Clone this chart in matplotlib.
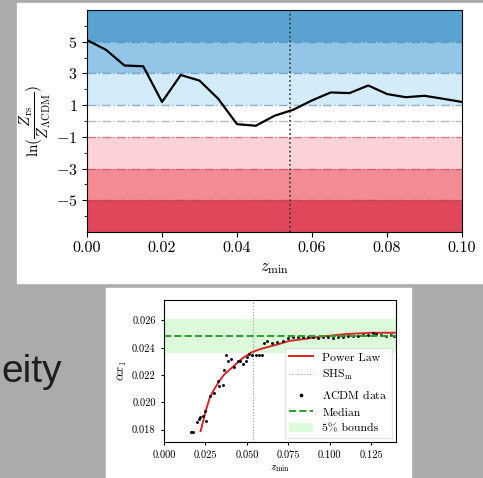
import matplotlib
matplotlib.use('Agg')
import matplotlib.pyplot as plt
import numpy as np

plt.rcParams['font.family'] = 'serif'
plt.rcParams['font.serif'] = ['cmr10', 'DejaVu Serif']
plt.rcParams['mathtext.fontset'] = 'cm'
plt.rcParams['axes.formatter.use_mathtext'] = True

# Datos panel superior: ln(Z_rs / Z_LCDM) frente a z_min
z_min = [0.000, 0.005, 0.010, 0.015, 0.020, 0.025, 0.030, 0.035, 0.040, 0.045, 0.050,
         0.055, 0.060, 0.065, 0.070, 0.075, 0.080, 0.085, 0.090, 0.095, 0.100]
ln_ratio = [5.1, 4.5, 3.5, 3.45, 1.2, 2.9, 2.55, 1.4, -0.2, -0.3, 0.33,
            0.71, 1.3, 1.8, 1.76, 2.24, 1.7, 1.5, 1.59, 1.4, 1.2]
z_shs = 0.054
band_edges = [-7, -5, -3, -1, 1, 3, 5, 7]
band_colors = ['#e0475a', '#f28b94', '#fdd1d8', '#ffffff', '#d4ecf9', '#93c6e6', '#5aa2cf']
y_ticks_top = [-5, -3, -1, 1, 3, 5]

# Datos panel inferior: alpha x_1 frente a z_min
pl_z = [0.0221, 0.0250, 0.0275, 0.0300, 0.0325, 0.0360, 0.0415, 0.0470, 0.0524, 0.0580,
        0.0634, 0.0700, 0.0754, 0.0850, 0.0933, 0.1093, 0.1252, 0.1400]
pl_ax = [0.0179, 0.0193, 0.0203, 0.0209, 0.0214, 0.0220, 0.0226, 0.0232, 0.02364, 0.0239,
         0.02408, 0.0243, 0.0245, 0.02465, 0.0248, 0.0250, 0.0251, 0.0251]
data_z = [0.0165, 0.0172, 0.0200, 0.0211, 0.0218, 0.0235, 0.0247, 0.0255, 0.0275, 0.0301,
          0.0325, 0.0329, 0.0355, 0.0361, 0.0375, 0.0389, 0.0405, 0.0425, 0.0445, 0.0460,
          0.0475, 0.0495, 0.0500, 0.0514, 0.0534, 0.0554, 0.0574, 0.0594, 0.0604, 0.0624,
          0.0654, 0.0684, 0.072, 0.075, 0.078, 0.081, 0.084, 0.087, 0.090, 0.093, 0.096,
          0.099, 0.102, 0.105, 0.108, 0.111, 0.114, 0.117, 0.120, 0.123, 0.126, 0.128,
          0.131, 0.134, 0.137, 0.139]
data_ax = [0.01785, 0.01780, 0.01856, 0.01880, 0.01890, 0.01900, 0.01940, 0.01863, 0.02046, 0.02070,
           0.02156, 0.02120, 0.02130, 0.02240, 0.02350, 0.02300, 0.02320, 0.02260, 0.02305, 0.02305,
           0.02280, 0.02305, 0.02330, 0.02358, 0.02350, 0.02344, 0.02344, 0.02344, 0.02437, 0.02448,
           0.02437, 0.02440, 0.02452, 0.02470, 0.02478, 0.02482, 0.02476, 0.02480, 0.02478, 0.02474, 0.02480,
           0.02476, 0.02470, 0.02478, 0.02482, 0.02486, 0.02490, 0.02488, 0.02494, 0.02496, 0.02510, 0.02500,
           0.02494, 0.02490, 0.02492, 0.02488]
median_ax = 0.02485
x_ticks_bot = [0.000, 0.025, 0.050, 0.075, 0.100, 0.125]
y_ticks_bot = [0.018, 0.020, 0.022, 0.024, 0.026]

fig = plt.figure(figsize=(4.83, 4.78), dpi=100)

# Fondo de la diapositiva (coordenadas en pixeles)
bg = fig.add_axes([0, 0, 1, 1], zorder=-10)
bg.axis('off')
bg.add_patch(plt.Rectangle((0, 0), 483, 478, color='#ababab'))
grad = np.linspace(0, 1, 50).reshape(-1, 1)
bg.imshow(grad, extent=(0, 483, 478, 446), cmap=matplotlib.colors.LinearSegmentedColormap.from_list(
    'g', ['#ababab', '#4e4e4e']), aspect='auto', origin='upper')
bg.add_patch(plt.Rectangle((17, 3), 470, 280, color='white'))
bg.add_patch(plt.Rectangle((106, 288), 305, 190, color='white'))
bg.text(1, 382, 'eity', fontsize=28, family='Liberation Sans', color='#1e1e1e')
bg.set_xlim(0, 483)
bg.set_ylim(478, 0)

# Panel superior
ax1 = fig.add_axes([87/483, 1-232/478, 375/483, 222/478])
for lo, hi, c in zip(band_edges[:-1], band_edges[1:], band_colors):
    ax1.axhspan(lo, hi, color=c, lw=0)
for v in [5, 3, 1, -1, -3, -5]:
    col = '#3d7fb0' if v > 0 else '#b8404c'
    ax1.axhline(v, color=col, ls='-.', lw=1.0, alpha=0.6)
ax1.axhline(0, color='#bbbbbb', ls='-.', lw=1.0)
ax1.axvline(z_shs, color='#333333', ls=':', lw=1.2)
ax1.plot(z_min, ln_ratio, color='black', lw=1.6)
ax1.set_xlim(0, 0.1)
ax1.set_ylim(-7, 7)
ax1.set_yticks(y_ticks_top)
ax1.set_yticks([-6, -4, -2, 0, 2, 4, 6], minor=True)
ax1.set_xticks([0, 0.02, 0.04, 0.06, 0.08, 0.10])
ax1.set_xticklabels(['0.00', '0.02', '0.04', '0.06', '0.08', '0.10'])
ax1.tick_params(labelsize=11.5)
ax1.set_xlabel(r'$z_{\rm min}$', fontsize=12)
ax1.set_ylabel(r'$\ln(\dfrac{Z_{\rm rs}}{Z_{\Lambda \rm CDM}})$', fontsize=11, labelpad=2)

# Panel inferior
ax2 = fig.add_axes([164/483, 1-442/478, 232/483, 142/478])
ax2.axhspan(median_ax*0.95, median_ax*1.05, color='#98f598', alpha=0.35, lw=0, label='5% bounds')
ax2.axvline(z_shs, color='#999999', ls=':', lw=0.8, label=r'SHS$_{\rm m}$')
ax2.plot(pl_z, pl_ax, color='#d62728', lw=1.4, label='Power Law')
ax2.plot(data_z, data_ax, 'o', color='black', ms=1.1, label=r'$\Lambda$CDM data')
ax2.axhline(median_ax, color='#2ca02c', ls='--', lw=1.4, label='Median')
ax2.set_xlim(0, 0.14)
ax2.set_ylim(0.0171, 0.0275)
ax2.set_xticks(x_ticks_bot)
ax2.set_xticklabels(['0.000', '0.025', '0.050', '0.075', '0.100', '0.125'])
ax2.set_yticks(y_ticks_bot)
ax2.set_yticklabels(['0.018', '0.020', '0.022', '0.024', '0.026'])
ax2.tick_params(labelsize=7.5, length=2.5)
ax2.set_xlabel(r'$z_{\rm min}$', fontsize=8, labelpad=2)
ax2.set_ylabel(r'$\alpha x_1$', fontsize=9, labelpad=2)
h, l = ax2.get_legend_handles_labels()
order = [l.index(k) for k in ['Power Law', r'SHS$_{\rm m}$', r'$\Lambda$CDM data', 'Median', '5% bounds']]
ax2.legend([h[i] for i in order], [l[i] for i in order], loc='lower right', fontsize=8.5,
           frameon=True, edgecolor='#dddddd', fancybox=False, markerscale=1.5,
           labelspacing=0.5, borderaxespad=0.3)

fig.savefig('out.png', dpi=100)
